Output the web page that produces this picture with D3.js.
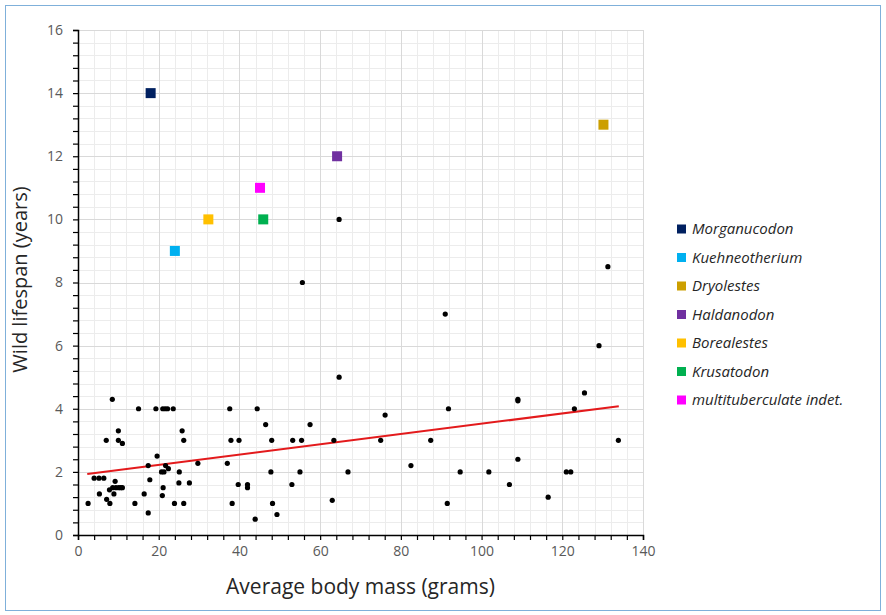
<head>
  <title>Lifespan vs body mass</title>
  <script src="https://d3js.org/d3.v7.min.js"></script>
  <meta charset="utf-8">
  <style>
    body { margin: 0; background: #fff; }
    text { font-family: "Open Sans", Lato, sans-serif; }
  </style>
</head>

<body>
  <div id="chart"></div>
  <script>

    // black dots: mammals (mass in grams, wild lifespan in years)
    var dotMass = [
      8.5, 15, 19.3, 21, 21.6, 22.2, 23.6, 10, 7, 10, 11, 25.8, 26.2, 19.6, 17.4, 21.7, 22.4, 20.7, 21.3, 25.1,
      29.7, 4, 5.2, 6.4, 9.2, 17.8, 25, 27.6, 21.1, 8.6, 9.4, 10.1, 10.6, 11, 7.8, 5.3, 8.9, 16.4, 20.9, 7.1,
      7.9, 2.5, 14.1, 23.9, 26.2, 17.4, 37.6, 44.4, 46.5, 57.5, 37.9, 39.9, 48, 53.2, 55.4, 63.4, 37, 47.8, 55, 66.9,
      39.7, 42, 42, 53, 38.2, 48.2, 63, 49.3, 43.9, 76.1, 91.8, 75, 87.4, 82.5, 94.7, 101.8, 91.5, 109, 109, 125.5,
      123, 133.9, 109, 121, 122.1, 106.9, 116.5, 64.7, 55.6, 131.3, 91, 129.1, 64.7
    ];
    var dotLife = [
      4.3, 4, 4, 4, 4, 4, 4, 3.3, 3, 3, 2.9, 3.3, 3, 2.5, 2.2, 2.2, 2.1, 2, 2, 2,
      2.27, 1.8, 1.8, 1.8, 1.7, 1.75, 1.65, 1.65, 1.5, 1.5, 1.5, 1.5, 1.5, 1.5, 1.43, 1.3, 1.3, 1.3, 1.25, 1.13,
      1.0, 1, 1, 1, 1, 0.7, 4, 4, 3.5, 3.5, 3, 3, 3, 3, 3, 3, 2.27, 2, 2, 2,
      1.6, 1.6, 1.5, 1.6, 1, 1, 1.1, 0.65, 0.5, 3.8, 4, 3, 3, 2.2, 2, 2, 1, 4.3, 4.25, 4.5,
      4, 3, 2.4, 2, 2, 1.6, 1.2, 10, 8, 8.5, 7, 6, 5
    ];

    // fossil taxa (coloured squares)
    var taxa = ["Morganucodon", "Kuehneotherium", "Dryolestes", "Haldanodon", "Borealestes", "Krusatodon", "multituberculate indet."];
    var taxaMass = [18, 24, 130.2, 64.2, 32.3, 45.9, 45.1];
    var taxaLife = [14, 9, 13, 12, 10, 10, 11];
    var taxaColors = ["#002060", "#00b0f0", "#cc9f00", "#7030a0", "#ffc000", "#00b050", "#ff00ff"];

    // linear trendline end points
    var trendMass = [2.3, 134];
    var trendLife = [1.93, 4.08];

    var W = 886, H = 615;
    var margin = { top: 30, right: 243, bottom: 80, left: 78 },
      width = W - margin.left - margin.right,
      height = H - margin.top - margin.bottom;

    var root = d3.select("#chart").append("svg")
      .attr("width", W)
      .attr("height", H);

    // outer chart border
    root.append("rect")
      .attr("x", 5.5).attr("y", 5.5)
      .attr("width", W - 11).attr("height", H - 10)
      .attr("fill", "none")
      .attr("stroke", "#7fb0da")
      .attr("stroke-width", 1);

    var svg = root.append("g")
      .attr("transform", "translate(" + margin.left + "," + margin.top + ")");

    var x = d3.scaleLinear().domain([0, 140]).range([0, width]);
    var y = d3.scaleLinear().domain([0, 16]).range([height, 0]);

    var xTicks = d3.range(0, 140.001, 4);
    var yTicks = d3.range(0, 16.001, 0.4);
    var isMajor = function (v, step) { return Math.abs(v / step - Math.round(v / step)) < 1e-6; };

    // minor gridlines
    svg.append("g").selectAll("line")
      .data(xTicks.filter(function (d) { return !isMajor(d, 20); }))
      .enter().append("line")
      .attr("x1", function (d) { return Math.round(x(d)) + 0.5; })
      .attr("x2", function (d) { return Math.round(x(d)) + 0.5; })
      .attr("y1", 0).attr("y2", height)
      .attr("stroke", "#ececec");
    svg.append("g").selectAll("line")
      .data(yTicks.filter(function (d) { return !isMajor(d, 2); }))
      .enter().append("line")
      .attr("y1", function (d) { return Math.round(y(d)) + 0.5; })
      .attr("y2", function (d) { return Math.round(y(d)) + 0.5; })
      .attr("x1", 0).attr("x2", width)
      .attr("stroke", "#ececec");

    // major gridlines
    svg.append("g").selectAll("line")
      .data(xTicks.filter(function (d) { return isMajor(d, 20) && d > 0; }))
      .enter().append("line")
      .attr("x1", function (d) { return Math.round(x(d)) + 0.5; })
      .attr("x2", function (d) { return Math.round(x(d)) + 0.5; })
      .attr("y1", 0).attr("y2", height)
      .attr("stroke", "#d9d9d9");
    svg.append("g").selectAll("line")
      .data(yTicks.filter(function (d) { return isMajor(d, 2) && d > 0; }))
      .enter().append("line")
      .attr("y1", function (d) { return Math.round(y(d)) + 0.5; })
      .attr("y2", function (d) { return Math.round(y(d)) + 0.5; })
      .attr("x1", 0).attr("x2", width)
      .attr("stroke", "#d9d9d9");

    // axes
    var xAxis = svg.append("g")
      .attr("transform", "translate(0," + height + ")")
      .call(d3.axisBottom(x)
        .tickValues(xTicks)
        .tickSize(5)
        .tickPadding(6)
        .tickFormat(function (d) { return isMajor(d, 20) ? d3.format("d")(d) : ""; }));
    var yAxis = svg.append("g")
      .call(d3.axisLeft(y)
        .tickValues(yTicks)
        .tickSize(5)
        .tickPadding(10)
        .tickFormat(function (d) { return isMajor(d, 2) ? d3.format("d")(Math.round(d)) : ""; }));

    [xAxis, yAxis].forEach(function (a) {
      a.select(".domain").attr("stroke", "#000").attr("stroke-width", 1.5);
      a.selectAll(".tick line").attr("stroke", "#000").attr("stroke-width", 1.2);
      a.selectAll(".tick text")
        .attr("fill", "#595959")
        .style("font-size", "14px")
        .style("font-family", "'Open Sans', Lato, sans-serif");
    });

    // axis titles
    svg.append("text")
      .attr("x", width / 2)
      .attr("y", height + 59)
      .attr("text-anchor", "middle")
      .attr("fill", "#262626")
      .style("font-size", "21px")
      .text("Average body mass (grams)");

    svg.append("text")
      .attr("transform", "translate(" + (-51) + "," + (height / 2 - 3) + ") rotate(-90)")
      .attr("text-anchor", "middle")
      .attr("fill", "#262626")
      .style("font-size", "20px")
      .text("Wild lifespan (years)");

    // trendline
    svg.append("line")
      .attr("x1", x(trendMass[0])).attr("y1", y(trendLife[0]))
      .attr("x2", x(trendMass[1])).attr("y2", y(trendLife[1]))
      .attr("stroke", "#e31a1c")
      .attr("stroke-width", 2);

    // black dots
    svg.append("g").selectAll("circle")
      .data(dotMass)
      .enter().append("circle")
      .attr("cx", function (d) { return x(d); })
      .attr("cy", function (d, i) { return y(dotLife[i]); })
      .attr("r", 2.6)
      .attr("fill", "#000");

    // coloured squares
    var sq = 10;
    svg.append("g").selectAll("rect")
      .data(taxa)
      .enter().append("rect")
      .attr("x", function (d, i) { return x(taxaMass[i]) - sq / 2; })
      .attr("y", function (d, i) { return y(taxaLife[i]) - sq / 2; })
      .attr("width", sq).attr("height", sq)
      .attr("fill", function (d, i) { return taxaColors[i]; });

    // legend
    var legend = root.append("g")
      .attr("transform", "translate(677,229)");
    var rows = legend.selectAll("g")
      .data(taxa)
      .enter().append("g")
      .attr("transform", function (d, i) { return "translate(0," + (i * 28.5) + ")"; });
    rows.append("rect")
      .attr("x", 0).attr("y", -4.5)
      .attr("width", 9).attr("height", 9)
      .attr("fill", function (d, i) { return taxaColors[i]; });
    rows.append("text")
      .attr("x", 15)
      .attr("y", 0)
      .attr("dy", "0.35em")
      .attr("fill", "#262626")
      .style("font-size", "15px")
      .style("font-style", "italic")
      .text(function (d) { return d; });

  </script>
</body>

</html>
